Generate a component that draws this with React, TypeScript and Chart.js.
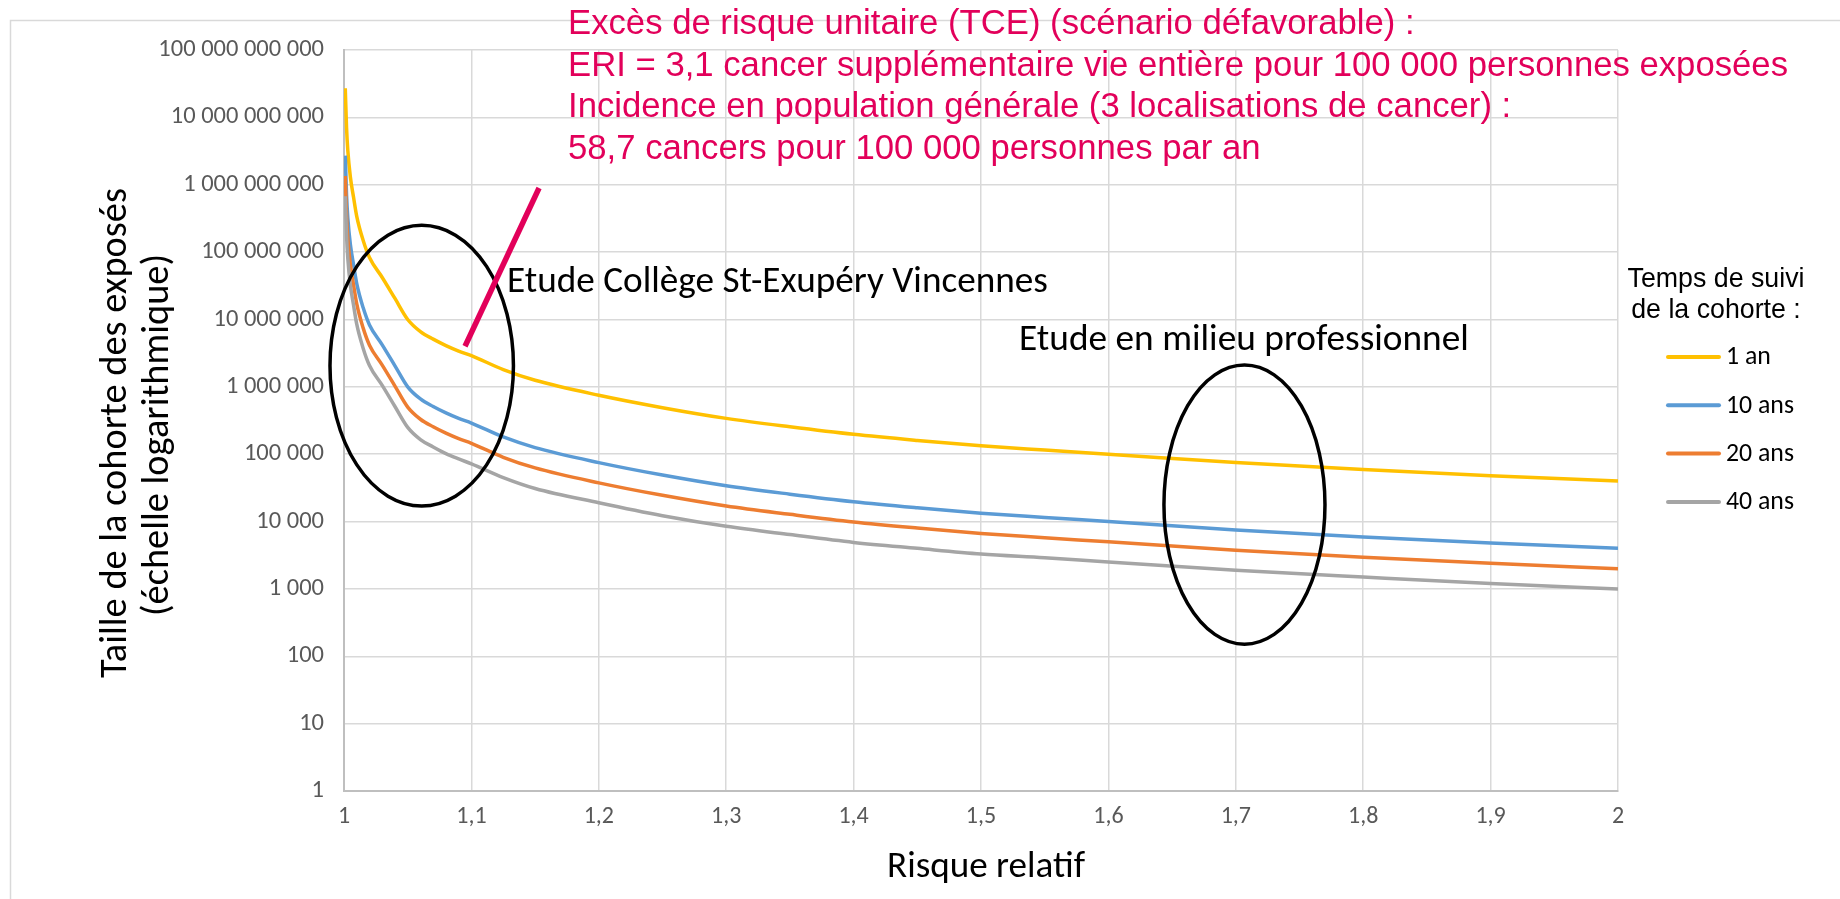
import { useEffect, useRef } from 'react';
import { Chart, registerables } from 'chart.js';

Chart.register(...registerables);

// ---- Data ----
const RISQUE_RELATIF = [
  1.001, 1.002, 1.003, 1.005, 1.0075, 1.01, 1.015, 1.02, 1.03, 1.04, 1.05, 1.06, 1.07, 1.08, 1.09, 1.1,
  1.125, 1.15, 1.2, 1.25, 1.3, 1.35, 1.4, 1.45, 1.5, 1.55, 1.6, 1.7, 1.8, 1.9, 2.0,
];

const COHORTE_1_AN = [
  2.7e10, 7e9, 3.2e9, 1.3e9, 6.5e8, 3.4e8, 1.5e8, 8.3e7, 4.2e7, 2.05e7, 1.0e7, 6.6e6, 5.1e6, 4.1e6, 3.4e6, 2.9e6,
  1.8e6, 1.25e6, 7.5e5, 4.9e5, 3.4e5, 2.55e5, 1.97e5, 1.6e5, 1.33e5, 1.15e5, 1.0e5, 7.5e4, 5.9e4, 4.8e4, 4.0e4,
];
const COHORTE_10_ANS = [
  2.7e9, 7e8, 3.2e8, 1.3e8, 6.5e7, 3.4e7, 1.5e7, 8.3e6, 4.2e6, 2.05e6, 1.0e6, 6.6e5, 5.1e5, 4.1e5, 3.4e5, 2.9e5,
  1.8e5, 1.25e5, 7.5e4, 4.9e4, 3.4e4, 2.55e4, 1.97e4, 1.6e4, 1.33e4, 1.15e4, 1.0e4, 7.5e3, 5.9e3, 4.8e3, 4.0e3,
];
const COHORTE_20_ANS = [
  1.35e9, 3.5e8, 1.6e8, 6.5e7, 3.25e7, 1.7e7, 7.5e6, 4.15e6, 2.1e6, 1.025e6, 5e5, 3.3e5, 2.55e5, 2.05e5, 1.7e5, 1.45e5,
  9e4, 6.25e4, 3.75e4, 2.45e4, 1.7e4, 1.28e4, 9.85e3, 8e3, 6.65e3, 5.75e3, 5e3, 3.75e3, 2.95e3, 2.4e3, 2e3,
];
const COHORTE_40_ANS = [
  6.75e8, 1.75e8, 8e7, 3.25e7, 1.625e7, 8.5e6, 3.75e6, 2.075e6, 1.05e6, 5.1e5, 2.5e5, 1.65e5, 1.28e5, 1.02e5, 8.5e4, 7.2e4,
  4.5e4, 3.1e4, 1.9e4, 1.22e4, 8.5e3, 6.4e3, 4.9e3, 4e3, 3.3e3, 2.9e3, 2.5e3, 1.9e3, 1.5e3, 1.2e3, 1e3,
];

const SERIES_LABELS = ['1 an', '10 ans', '20 ans', '40 ans'];
const SERIES_COLORS = ['#FFC000', '#5B9BD5', '#ED7D31', '#A5A5A5'];

const X_TICKS = [1, 1.1, 1.2, 1.3, 1.4, 1.5, 1.6, 1.7, 1.8, 1.9, 2];
const Y_TICKS = [1, 10, 100, 1e3, 1e4, 1e5, 1e6, 1e7, 1e8, 1e9, 1e10, 1e11];

const X_TITLE = 'Risque relatif';
const Y_TITLE = ['Taille de la cohorte des exposés', '(échelle logarithmique)'];
const LEGEND_TITLE = ['Temps de suivi', 'de la cohorte :'];
const RED_NOTE = [
  'Excès de risque unitaire (TCE) (scénario défavorable) :',
  'ERI = 3,1 cancer supplémentaire vie entière pour 100 000 personnes exposées',
  'Incidence en population générale (3 localisations de cancer) :',
  '58,7 cancers pour 100 000 personnes par an',
];
const STUDY_LABELS = ['Etude Collège St-Exupéry Vincennes', 'Etude en milieu professionnel'];

// ellipses in data space: [rrMin, rrMax, nMin, nMax]
const ELLIPSE_COLLEGE = [0.989, 1.133, 1.7e4, 2.5e8];
const ELLIPSE_PRO = [1.6436, 1.770, 151, 2.1e6];
// red pointer line in data space: [rr1, n1, rr2, n2]
const RED_POINTER = [1.095, 4.0e6, 1.1531, 8.95e8];

const CALIBRI = 'Carlito, Calibri, Lato, sans-serif';
const ARIAL = '"Liberation Sans", Arial, sans-serif';
const RED = '#E2005A';

const fmtSpace = (v: number) => Math.round(v).toString().replace(/\B(?=(\d{3})+(?!\d))/g, ' ');
const fmtX = (v: number) => (Math.round(v * 10) / 10).toString().replace('.', ',');

function fitSize(ctx: CanvasRenderingContext2D, text: string, family: string, target: number) {
  const base = 40;
  ctx.font = `${base}px ${family}`;
  const w = ctx.measureText(text).width;
  return (base * target) / w;
}

const decorPlugin = {
  id: 'decor',
  beforeDraw(chart: any) {
    const ctx = chart.ctx as CanvasRenderingContext2D;
    ctx.save();
    ctx.strokeStyle = '#d9d9d9';
    ctx.lineWidth = 1.5;
    ctx.strokeRect(10.5, 20.5, 1900, 1000);
    ctx.restore();
  },
  afterDatasetsDraw(chart: any) {
    const ctx = chart.ctx as CanvasRenderingContext2D;
    const xs = chart.scales.x;
    const ys = chart.scales.y;
    ctx.save();

    // ellipses
    ctx.strokeStyle = '#000';
    ctx.lineWidth = 3.5;
    [ELLIPSE_COLLEGE, ELLIPSE_PRO].forEach((e) => {
      const x0 = xs.getPixelForValue(e[0]);
      const x1 = xs.getPixelForValue(e[1]);
      const y0 = ys.getPixelForValue(e[3]);
      const y1 = ys.getPixelForValue(e[2]);
      ctx.beginPath();
      ctx.ellipse((x0 + x1) / 2, (y0 + y1) / 2, (x1 - x0) / 2, (y1 - y0) / 2, 0, 0, Math.PI * 2);
      ctx.stroke();
    });

    // red pointer
    ctx.strokeStyle = RED;
    ctx.lineWidth = 5.5;
    ctx.beginPath();
    ctx.moveTo(xs.getPixelForValue(RED_POINTER[0]), ys.getPixelForValue(RED_POINTER[1]));
    ctx.lineTo(xs.getPixelForValue(RED_POINTER[2]), ys.getPixelForValue(RED_POINTER[3]));
    ctx.stroke();

    // red note (Arial, slightly condensed)
    const redSize = 35.5;
    ctx.font = `${redSize}px ${ARIAL}`;
    const sx = 1220 / ctx.measureText(RED_NOTE[1]).width;
    ctx.fillStyle = RED;
    ctx.textAlign = 'left';
    ctx.textBaseline = 'alphabetic';
    const redBase = [34, 75.5, 117, 158.5];
    RED_NOTE.forEach((t, i) => {
      ctx.save();
      ctx.scale(sx, 1);
      ctx.fillText(t, 568 / sx, redBase[i]);
      ctx.restore();
    });

    // study labels
    ctx.fillStyle = '#000';
    let s = fitSize(ctx, STUDY_LABELS[0], CALIBRI, 541);
    ctx.font = `${s}px ${CALIBRI}`;
    ctx.fillText(STUDY_LABELS[0], 507, 292);
    s = fitSize(ctx, STUDY_LABELS[1], CALIBRI, 450);
    ctx.font = `${s}px ${CALIBRI}`;
    ctx.fillText(STUDY_LABELS[1], 1019, 350);

    // x title
    s = fitSize(ctx, X_TITLE, CALIBRI, 198);
    ctx.font = `${s}px ${CALIBRI}`;
    ctx.textAlign = 'center';
    ctx.fillText(X_TITLE, 986, 877);

    // y title (rotated)
    s = fitSize(ctx, Y_TITLE[0], CALIBRI, 490);
    ctx.font = `${s}px ${CALIBRI}`;
    const yt = [[126, 433], [168, 435]];
    Y_TITLE.forEach((t, i) => {
      ctx.save();
      ctx.translate(yt[i][0], yt[i][1]);
      ctx.rotate(-Math.PI / 2);
      ctx.fillText(t, 0, 0);
      ctx.restore();
    });

    // legend title
    s = fitSize(ctx, LEGEND_TITLE[0], ARIAL, 177);
    ctx.font = `${s}px ${ARIAL}`;
    ctx.fillText(LEGEND_TITLE[0], 1716, 287);
    ctx.fillText(LEGEND_TITLE[1], 1716, 318);

    // legend items
    s = fitSize(ctx, '10 ans', CALIBRI, 68);
    ctx.font = `${s}px ${CALIBRI}`;
    ctx.textAlign = 'left';
    ctx.textBaseline = 'middle';
    chart.data.datasets.forEach((ds: any, i: number) => {
      const yy = 357 + i * 48.3;
      ctx.strokeStyle = ds.borderColor;
      ctx.lineWidth = 4;
      ctx.lineCap = 'round';
      ctx.beginPath();
      ctx.moveTo(1668, yy);
      ctx.lineTo(1719, yy);
      ctx.stroke();
      ctx.fillStyle = '#000';
      ctx.fillText(ds.label, 1726, yy + 1);
    });

    ctx.restore();
  },
};

export default function App() {
  const ref = useRef<HTMLCanvasElement>(null);
  useEffect(() => {
    document.body.style.margin = '0';
    const canvas = ref.current as HTMLCanvasElement;
    const values = [COHORTE_1_AN, COHORTE_10_ANS, COHORTE_20_ANS, COHORTE_40_ANS];
    const chart = new Chart(canvas, {
      type: 'line',
      data: {
        datasets: values.map((vals, k) => ({
          label: SERIES_LABELS[k],
          data: RISQUE_RELATIF.map((x, i) => ({ x, y: vals[i] })),
          borderColor: SERIES_COLORS[k],
          backgroundColor: SERIES_COLORS[k],
          borderWidth: 3.5,
          pointRadius: 0,
          cubicInterpolationMode: 'monotone' as const,
          fill: false,
          order: 3 - k,
        })),
      },
      options: {
        responsive: false,
        animation: false,
        layout: { padding: { top: 50, right: 222, left: 0, bottom: 0 } },
        plugins: {
          legend: { display: false },
          tooltip: { enabled: false },
          title: { display: false },
        },
        scales: {
          x: {
            type: 'linear',
            min: 1,
            max: 2,
            afterBuildTicks: (sc: any) => {
              sc.ticks = X_TICKS.map((v) => ({ value: v }));
            },
            afterFit: (sc: any) => {
              sc.height = 108;
            },
            grid: { color: '#d9d9d9', lineWidth: 1.5, drawTicks: false },
            border: { color: '#bfbfbf', width: 2 },
            ticks: {
              padding: 12,
              color: '#595959',
              font: { family: CALIBRI, size: 24 },
              maxRotation: 0,
              autoSkip: false,
              callback: (v: any) => fmtX(Number(v)),
            },
          },
          y: {
            type: 'logarithmic',
            min: 1,
            max: 1e11,
            afterBuildTicks: (sc: any) => {
              sc.ticks = Y_TICKS.map((v) => ({ value: v }));
            },
            afterFit: (sc: any) => {
              sc.width = 344;
            },
            grid: { color: '#d9d9d9', lineWidth: 1.5, drawTicks: false },
            border: { color: '#bfbfbf', width: 2 },
            ticks: {
              padding: 20,
              color: '#595959',
              font: { family: CALIBRI, size: 24.5 },
              autoSkip: false,
              callback: (v: any) => fmtSpace(Number(v)),
            },
          },
        },
      } as any,
      plugins: [decorPlugin],
    });
    return () => chart.destroy();
  }, []);
  return (
    <div style={{ width: 1840, height: 899 }}>
      <canvas ref={ref} width={1840} height={899} style={{ display: 'block' }} />
    </div>
  );
}
